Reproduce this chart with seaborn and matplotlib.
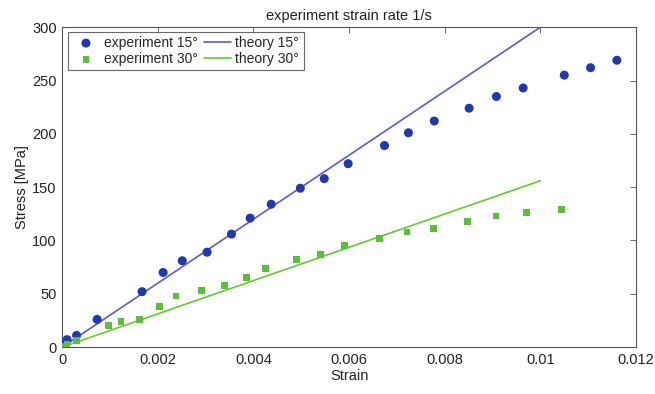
import numpy as np
import pandas as pd
import matplotlib
matplotlib.use("Agg")
import matplotlib.pyplot as plt
import seaborn as sns

# Experimental data, 15 degrees
exp15_strain = [0.00003, 0.0001, 0.0003, 0.00073, 0.00167, 0.00211, 0.00251, 0.00303,
                0.00354, 0.00393, 0.00437, 0.00498, 0.00548, 0.00598, 0.00674, 0.00724,
                0.00778, 0.00851, 0.00908, 0.00964, 0.0105, 0.01105, 0.0116]
exp15_stress = [3, 7, 11, 26, 52, 70, 81, 89, 106, 121, 134, 149, 158, 172, 189, 201,
                212, 224, 235, 243, 255, 262, 269]

# Experimental data, 30 degrees
exp30_strain = [0.00003, 0.0001, 0.0003, 0.00096, 0.00123, 0.00161, 0.00203, 0.00238,
                0.00291, 0.00339, 0.00385, 0.00425, 0.0049, 0.0054, 0.0059, 0.00663,
                0.00721, 0.00776, 0.00847, 0.00907, 0.00971, 0.01044]
exp30_stress = [1, 3, 6, 20, 24, 26, 38, 48, 53, 58, 65, 74, 82, 87, 95, 102,
                108, 111, 118, 123, 126, 129]

# Theory lines
theory_strain = [0.0, 0.01]
theory15_stress = [0, 300]
theory30_stress = [0, 156]

sns.set_theme(style="white")
plt.rcParams['font.family'] = ['Liberation Sans', 'DejaVu Sans']

fig = plt.figure(figsize=(6.55, 3.94), dpi=100)
ax = fig.add_axes([0.095, 0.119, 0.876, 0.812])

c_exp15 = "#2038b0"
c_th15 = "#5a5cd0"
c_exp30 = "#5cbf3c"
c_th30 = "#66c833"

sns.scatterplot(x=exp15_strain, y=exp15_stress, ax=ax, marker="o", s=42, color=c_exp15,
                edgecolor="none", label="experiment 15°", zorder=3)
sns.scatterplot(x=exp30_strain, y=exp30_stress, ax=ax, marker="s", s=24, color=c_exp30,
                edgecolor="none", label="experiment 30°", zorder=3)
sns.lineplot(x=theory_strain, y=theory15_stress, ax=ax, color=c_th15, lw=1.2,
             label="theory 15°", zorder=2)
sns.lineplot(x=theory_strain, y=theory30_stress, ax=ax, color=c_th30, lw=1.2,
             label="theory 30°", zorder=2)

ax.set_xlim(0, 0.012)
ax.set_ylim(0, 300)
ax.set_xticks([0, 0.002, 0.004, 0.006, 0.008, 0.01, 0.012])
ax.set_xticklabels(["0", "0.002", "0.004", "0.006", "0.008", "0.01", "0.012"])
ax.set_yticks([0, 50, 100, 150, 200, 250, 300])
ax.tick_params(direction="in", length=4, width=0.6, color="#555555", top=True, right=True,
               labelsize=10.5, labelcolor="#222222", pad=4)
for s in ax.spines.values():
    s.set_color("#555555")
    s.set_linewidth(0.8)

ax.set_xlabel("Strain", fontsize=10.5, color="#222222", labelpad=2)
ax.set_ylabel("Stress [MPa]", fontsize=10.5, color="#222222", labelpad=2)
ax.set_title("experiment strain rate 1/s", fontsize=10.5, color="#222222", pad=5)

h, l = ax.get_legend_handles_labels()
order = [l.index("experiment 15°"), l.index("experiment 30°"), l.index("theory 15°"), l.index("theory 30°")]
leg = ax.legend([h[i] for i in order], [l[i] for i in order], ncol=2, loc="upper left",
                bbox_to_anchor=(0.005, 0.995), fontsize=10, frameon=True, fancybox=False,
                edgecolor="#444444", handlelength=2.0, handletextpad=0.3, columnspacing=0.4,
                borderpad=0.3, labelspacing=0.15, borderaxespad=0.2)
leg.get_frame().set_linewidth(0.8)

fig.savefig("out.png", dpi=100)
